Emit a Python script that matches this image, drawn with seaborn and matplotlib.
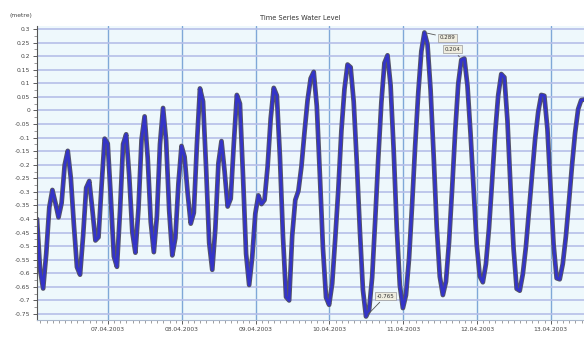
import numpy as np
import pandas as pd
import matplotlib
matplotlib.use("Agg")
import matplotlib.pyplot as plt
import matplotlib.dates as mdates
import matplotlib.patheffects as pe
import seaborn as sns

# ---- data (hourly water level, metre) ----
start_time = "2003-04-06 00:54"
water_level = [
    -0.400, -0.586, -0.656, -0.528, -0.357, -0.293, -0.341, -0.394, -0.341, -0.201, -0.149, -0.249,
    -0.422, -0.577, -0.605, -0.461, -0.285, -0.260, -0.365, -0.479, -0.467, -0.277, -0.104, -0.122,
    -0.320, -0.538, -0.576, -0.371, -0.124, -0.088, -0.242, -0.448, -0.524, -0.362, -0.108, -0.022,
    -0.174, -0.411, -0.522, -0.389, -0.124, 0.009, -0.112, -0.370, -0.534, -0.470, -0.269, -0.131,
    -0.171, -0.305, -0.417, -0.377, -0.126, 0.081, 0.033, -0.213, -0.488, -0.587, -0.435, -0.195,
    -0.113, -0.223, -0.354, -0.325, -0.124, 0.057, 0.025, -0.241, -0.528, -0.643, -0.540, -0.380,
    -0.313, -0.345, -0.330, -0.207, -0.030, 0.083, 0.055, -0.169, -0.465, -0.687, -0.700, -0.461,
    -0.330, -0.297, -0.207, -0.080, 0.038, 0.118, 0.142, 0.016, -0.239, -0.508, -0.689, -0.716,
    -0.638, -0.471, -0.291, -0.075, 0.079, 0.169, 0.159, 0.032, -0.190, -0.440, -0.661, -0.759,
    -0.736, -0.615, -0.402, -0.174, 0.030, 0.175, 0.203, 0.092, -0.146, -0.430, -0.644, -0.728,
    -0.680, -0.545, -0.347, -0.128, 0.065, 0.218, 0.287, 0.243, 0.076, -0.166, -0.428, -0.612,
    -0.680, -0.631, -0.486, -0.291, -0.079, 0.098, 0.186, 0.191, 0.091, -0.086, -0.292, -0.493,
    -0.611, -0.633, -0.566, -0.434, -0.263, -0.084, 0.056, 0.134, 0.122, -0.037, -0.282, -0.510,
    -0.657, -0.664, -0.603, -0.503, -0.371, -0.238, -0.106, -0.006, 0.057, 0.054, -0.068, -0.284,
    -0.493, -0.618, -0.622, -0.565, -0.465, -0.337, -0.203, -0.083, 0.005, 0.038, 0.040,
]
y_ticks = [0.3, 0.25, 0.2, 0.15, 0.1, 0.05, 0.0, -0.05, -0.1, -0.15, -0.2, -0.25, -0.3,
           -0.35, -0.4, -0.45, -0.5, -0.55, -0.6, -0.65, -0.7, -0.75]
title_text = "Time Series Water Level"
ylabel_text = "(metre)"
max_labels = ["0.289", "0.204"]
min_label = "-0.765"

times = pd.date_range(start_time, periods=len(water_level), freq="h")
df = pd.DataFrame({"time": times, "level": water_level})

sns.set_style("white")
plt.rcParams["font.family"] = ["DejaVu Sans"]

fig = plt.figure(figsize=(5.84, 3.38), dpi=100)
ax = fig.add_axes([37 / 584, 1 - 320 / 338, 1 - 37 / 584, (320 - 26) / 338])
ax.set_facecolor("#eef8fc")

sns.lineplot(data=df, x="time", y="level", ax=ax, color="#3434c8", linewidth=2.0,
             path_effects=[pe.Stroke(linewidth=3.4, foreground="#555566"), pe.Normal()])

ax.set_ylim(-0.772, 0.311)
ax.set_xlim(times[0], times[0] + pd.Timedelta(hours=177.9))
ax.set_yticks(y_ticks)
ax.set_yticklabels([f"{v:g}" for v in y_ticks])
ax.yaxis.set_minor_locator(matplotlib.ticker.MultipleLocator(0.025))

ax.xaxis.set_major_locator(mdates.DayLocator())
ax.xaxis.set_minor_locator(mdates.HourLocator(byhour=range(0, 24, 2)))
ax.xaxis.set_major_formatter(mdates.DateFormatter("%d.%m.%Y"))

ax.grid(True, which="major", axis="y", color="#b6bfe8", linewidth=1.2)
ax.grid(True, which="major", axis="x", color="#7fa8d8", linewidth=1.0)
ax.set_axisbelow(True)

ax.tick_params(axis="both", which="major", labelsize=4.3, colors="#444444", length=3, width=0.6,
               direction="out", pad=2)
ax.tick_params(axis="both", which="minor", length=2, width=0.5, colors="#777777", direction="out")
ax.tick_params(axis="y", which="both", left=True)
ax.tick_params(axis="x", which="both", bottom=True)

for s in ["top", "right"]:
    ax.spines[s].set_visible(False)
ax.spines["left"].set_color("#555555")
ax.spines["left"].set_linewidth(0.8)
ax.spines["bottom"].set_color("#a9b7cc")
ax.spines["bottom"].set_linewidth(0.8)

ax.set_xlabel("")
ax.set_ylabel("")
fig.text(300 / 584, 1 - 18 / 338, title_text, ha="center", va="center", fontsize=4.8, color="#333333")
fig.text(10 / 584, 1 - 15 / 338, ylabel_text, ha="left", va="center", fontsize=4.3, color="#444444")

box = dict(boxstyle="square,pad=0.25", facecolor="#efeddf", edgecolor="#9a9a9a", linewidth=0.5)
t_max = times[0] + pd.Timedelta(hours=126)
ax.annotate(max_labels[0], xy=(t_max, 0.287),
            xytext=(times[0] + pd.Timedelta(hours=131), 0.268), fontsize=4, color="#333333",
            bbox=box, ha="left", va="center",
            arrowprops=dict(arrowstyle="-", color="#555555", linewidth=0.6))
t_max2 = times[0] + pd.Timedelta(hours=138)
ax.annotate(max_labels[1], xy=(t_max2, 0.19),
            xytext=(times[0] + pd.Timedelta(hours=132.5), 0.225), fontsize=4, color="#333333",
            bbox=box, ha="left", va="center",
            arrowprops=dict(arrowstyle="-", color="#555555", linewidth=0.6))
t_min = times[0] + pd.Timedelta(hours=107)
ax.annotate(min_label, xy=(t_min, -0.759),
            xytext=(times[0] + pd.Timedelta(hours=110.5), -0.684), fontsize=4, color="#333333",
            bbox=box, ha="left", va="center",
            arrowprops=dict(arrowstyle="-", color="#555555", linewidth=0.6))

fig.savefig("out.png", dpi=100, facecolor="white")
